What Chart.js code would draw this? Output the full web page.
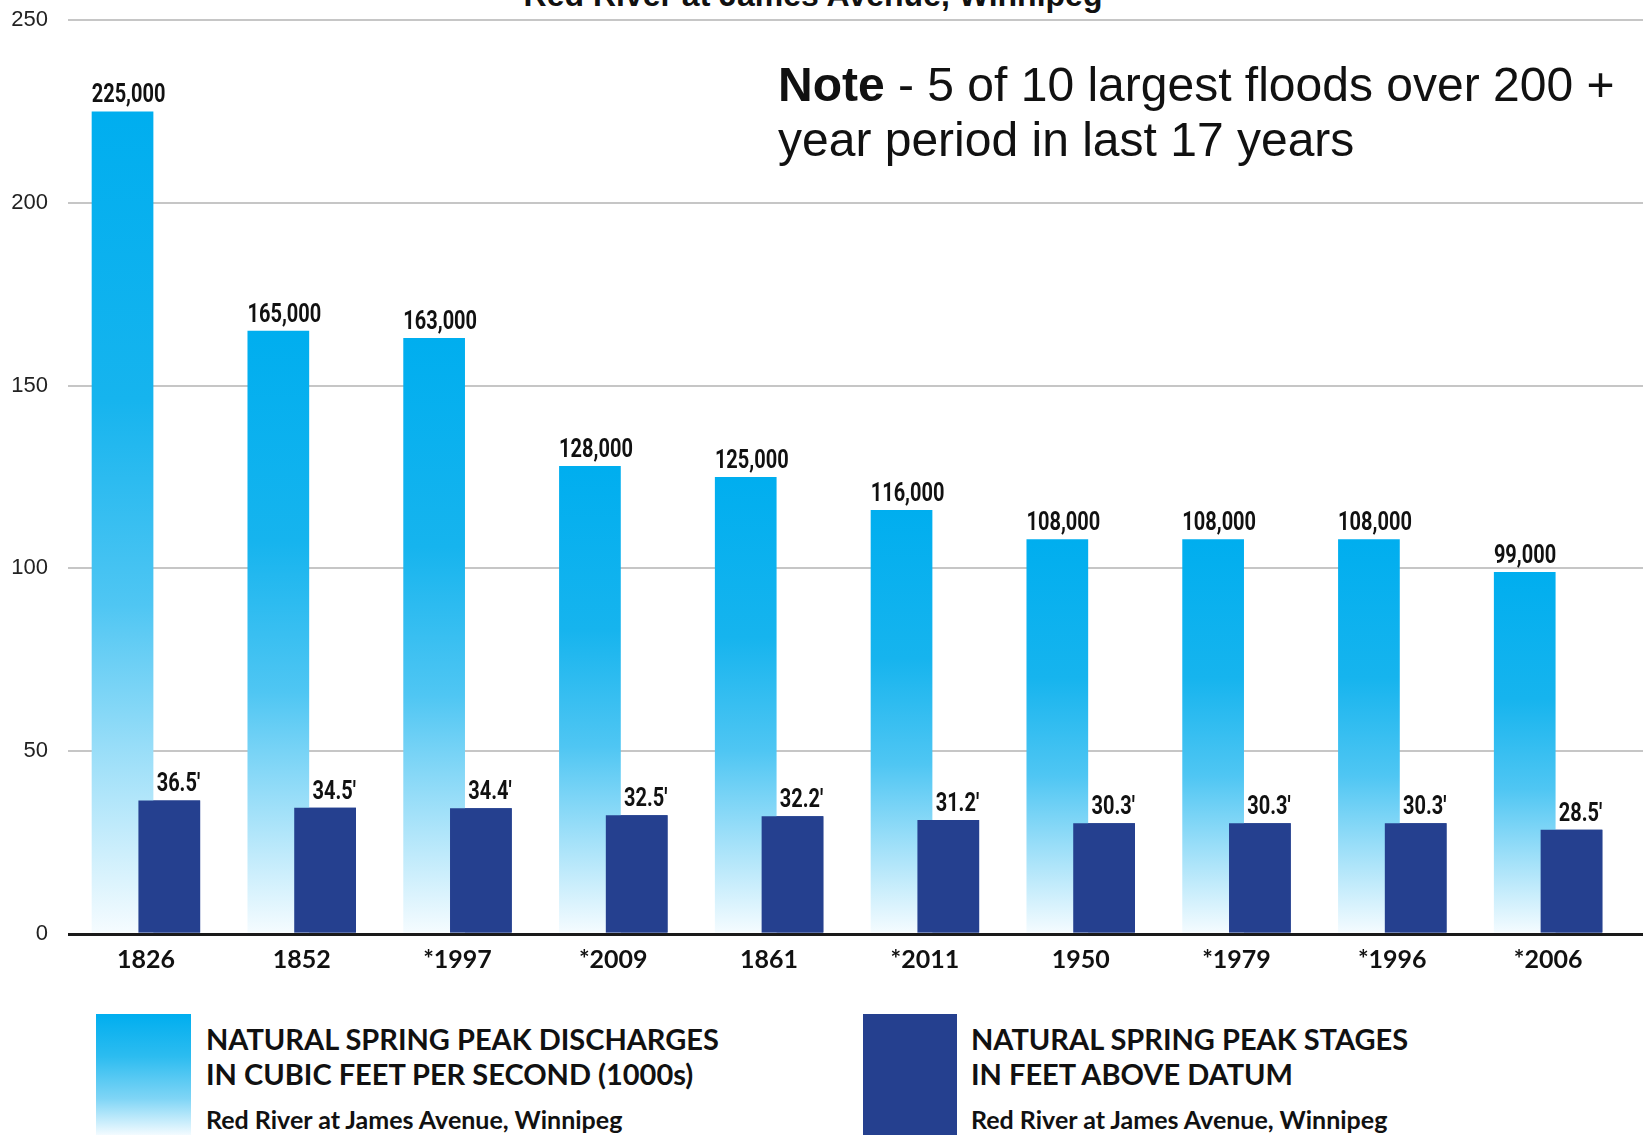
<!DOCTYPE html>
<html>
<head>
<meta charset="utf-8">
<script src="https://cdn.jsdelivr.net/npm/chart.js@4"></script>
<style>
  body { margin: 0; width: 1643px; height: 1135px; overflow: hidden; background: #fff; position: relative; font-family: 'Liberation Sans', Arial, sans-serif; color: #111; }
  #wrap { position: absolute; left: 0; top: 0; width: 1643px; height: 990px; }
  .title { position: absolute; left: 0; top: -21px; width: 1626px; text-align: center; font: bold 32px/32px 'Liberation Sans', Arial, sans-serif; }
  .note { position: absolute; left: 778px; top: 57px; width: 860px; font: 48px/55px 'Liberation Sans', Arial, sans-serif; }
  .swatch { position: absolute; top: 1014px; height: 121px; }
  .lg { position: absolute; font-family: Lato, sans-serif; font-weight: bold; white-space: nowrap; }
  .lg.big { font-size: 29px; line-height: 34.8px; }
  .lg.small { font-size: 25px; line-height: 30px; }
</style>
</head>
<body>
<div class="title">Red River at James Avenue, Winnipeg</div>
<div id="wrap"><canvas id="floodChart"></canvas></div>
<div class="note"><b>Note</b> - 5 of 10 largest floods over 200 + year period in last 17 years</div>

<div class="swatch" style="left:96px;width:95px;background:linear-gradient(to bottom,#00aeef 0%,#2cbcf0 35%,#7fd5f6 70%,#f3fbff 100%)"></div>
<div class="lg big" style="left:206px;top:1022px">NATURAL SPRING PEAK DISCHARGES</div>
<div class="lg big" style="left:206px;top:1057px">IN CUBIC FEET PER SECOND (1000s)</div>
<div class="lg small" style="left:206px;top:1104px">Red River at James Avenue, Winnipeg</div>

<div class="swatch" style="left:863px;width:94px;background:#25408f"></div>
<div class="lg big" style="left:971px;top:1022px">NATURAL SPRING PEAK STAGES</div>
<div class="lg big" style="left:971px;top:1057px">IN FEET ABOVE DATUM</div>
<div class="lg small" style="left:971px;top:1104px">Red River at James Avenue, Winnipeg</div>

<script>
// Données
const years = ['1826', '1852', '*1997', '*2009', '1861', '*2011', '1950', '*1979', '*1996', '*2006'];
const discharges = [225, 165, 163, 128, 125, 116, 108, 108, 108, 99]; // milliers de pi³/s
const stages = [36.5, 34.5, 34.4, 32.5, 32.2, 31.2, 30.3, 30.3, 30.3, 28.5]; // pieds
const yTicks = [0, 50, 100, 150, 200, 250];

const labelFont = 'bold 25px Roboto, "Liberation Sans", sans-serif';
const squeeze = 0.8; // police étroite simulée

// dégradé cyan -> blanc pour chaque barre de débit
function dischargeGradient(context) {
    const chart = context.chart;
    if (!chart.chartArea || context.type !== 'data') return '#00aeef';
    const y = chart.scales.y;
    const top = y.getPixelForValue(context.raw);
    const bottom = y.getPixelForValue(0);
    const g = chart.ctx.createLinearGradient(0, top, 0, bottom);
    g.addColorStop(0, '#00aeef');
    g.addColorStop(0.35, '#16b4ee');
    g.addColorStop(0.6, '#4fc6f3');
    g.addColorStop(0.8, '#a3e1f9');
    g.addColorStop(1, '#f6fcff');
    return g;
}

// prolonge les lignes horizontales jusqu'au bord droit
const gridExtend = {
    id: 'gridExtend',
    beforeDatasetsDraw(chart) {
        const { ctx, chartArea, scales } = chart;
        ctx.save();
        scales.y.ticks.forEach(t => {
            const w = t.value === 0 ? 3 : 2;
            const raw = scales.y.getPixelForValue(t.value);
            const py = Math.round(raw - w / 2) + w / 2;
            ctx.strokeStyle = t.value === 0 ? '#1a1a1a' : '#c6c6c6';
            ctx.lineWidth = w;
            ctx.beginPath();
            ctx.moveTo(chartArea.right - 1, py);
            ctx.lineTo(chart.width, py);
            ctx.stroke();
        });
        ctx.restore();
    }
};

function narrowText(ctx, text, x, y, align) {
    ctx.save();
    ctx.translate(x, y);
    ctx.scale(squeeze, 1);
    ctx.textAlign = align;
    ctx.fillText(text, 0, 0);
    ctx.restore();
}

// barres foncées par-dessus + étiquettes de valeurs
const barLabels = {
    id: 'barLabels',
    afterDatasetsDraw(chart) {
        chart.getDatasetMeta(1).controller.draw();
        const ctx = chart.ctx;
        ctx.save();
        ctx.font = labelFont;
        ctx.fillStyle = '#111';
        ctx.textBaseline = 'bottom';
        chart.getDatasetMeta(0).data.forEach((bar, i) => {
            narrowText(ctx, (discharges[i] * 1000).toLocaleString('en-US'), bar.x - bar.width / 2, bar.y - 3, 'left');
        });
        chart.getDatasetMeta(1).data.forEach((bar, i) => {
            narrowText(ctx, stages[i].toFixed(1) + '\u2032', bar.x + bar.width / 2, bar.y - 3, 'right');
        });
        ctx.restore();
    }
};

document.addEventListener('DOMContentLoaded', function () {
    new Chart(document.getElementById('floodChart'), {
        type: 'bar',
        data: {
            labels: years,
            datasets: [{
                label: 'Natural spring peak discharges',
                data: discharges,
                backgroundColor: dischargeGradient,
                categoryPercentage: 0.6,
                barPercentage: 1.32
            }, {
                label: 'Natural spring peak stages',
                data: stages,
                backgroundColor: '#25408f',
                categoryPercentage: 0.6,
                barPercentage: 1.32
            }]
        },
        options: {
            responsive: true,
            maintainAspectRatio: false,
            animation: false,
            layout: { padding: { top: 20, right: 17, bottom: 12, left: 0 } },
            plugins: {
                legend: { display: false },
                tooltip: { enabled: false }
            },
            scales: {
                x: {
                    grid: { display: false },
                    border: { display: false },
                    ticks: { color: '#111', padding: 3, font: { family: 'Lato', weight: 'bold', size: 25 } }
                },
                y: {
                    min: 0,
                    max: 250,
                    afterBuildTicks: scale => { scale.ticks = yTicks.map(v => ({ value: v })); },
                    afterFit: scale => { scale.width = 68; },
                    border: { display: false },
                    grid: {
                        drawTicks: true,
                        tickLength: 15,
                        tickColor: 'rgba(0,0,0,0)',
                        color: c => c.tick.value === 0 ? '#1a1a1a' : '#c6c6c6',
                        lineWidth: c => c.tick.value === 0 ? 3 : 2
                    },
                    ticks: { color: '#222', padding: 5, font: { family: 'Liberation Sans', size: 22 } }
                }
            }
        },
        plugins: [gridExtend, barLabels]
    });
});
</script>
</body>
</html>
